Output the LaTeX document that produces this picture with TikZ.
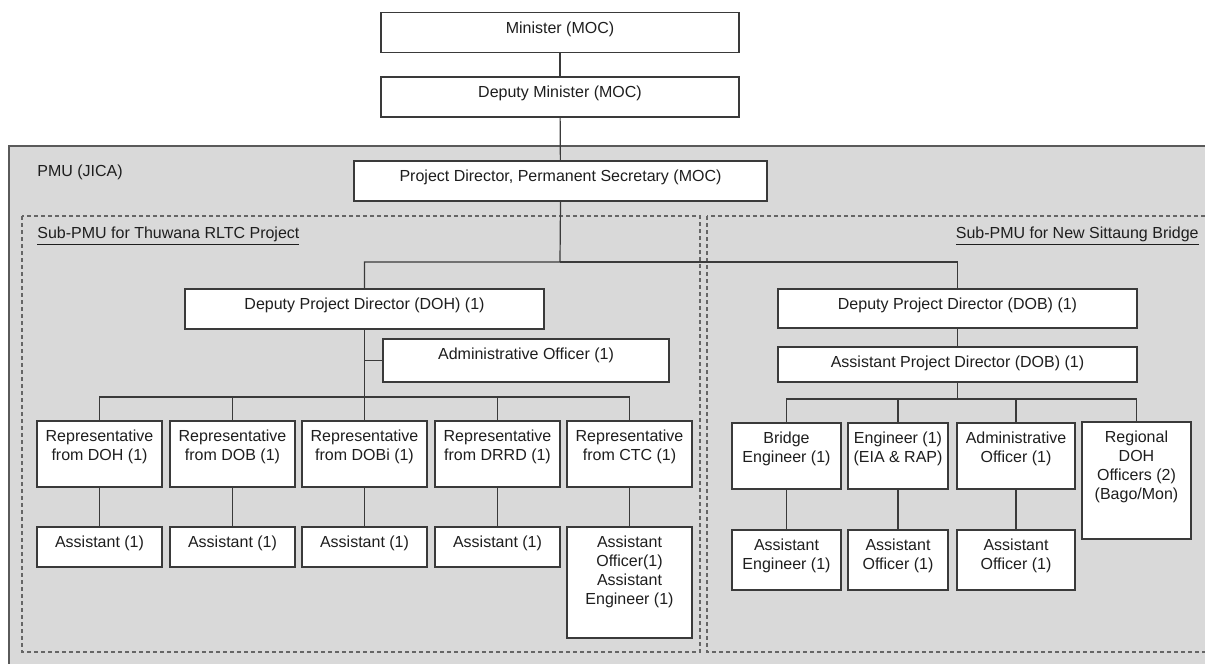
\documentclass[tikz,border=0pt]{standalone}
\usepackage{fontspec}
\setmainfont{Liberation Sans}
\usetikzlibrary{calc}
\definecolor{cInk}{HTML}{1E1E1E}
\definecolor{cLine}{HTML}{3A3A3A}
\definecolor{cPmu}{HTML}{D9D9D9}
\definecolor{cEdge}{HTML}{5A5A5A}
\definecolor{cDash}{HTML}{666666}
% box text sits at the top of a fixed-size cell
\newcommand{\cellbox}[3]{\parbox[c][#2pt][t]{#1pt}{\centering\rule{0pt}{10.3pt}#3}}
\tikzset{
  post/.style={draw=cLine,line width=0.7pt,fill=white,inner sep=0pt,text=cInk},
  link/.style={draw=cLine,line width=0.6pt},
  subpmu/.style={draw=cDash,line width=0.6pt,dash pattern=on 2pt off 1.5pt},
  tag/.style={inner sep=0pt,text=cInk},
}

\begin{document}
\begin{tikzpicture}[x=0.5pt,y=-0.5pt,font=\fontsize{8}{9.5}\selectfont]
  \clip (0,0) rectangle (1205,664);
  % PMU area and the two sub-PMUs
  \draw[fill=cPmu,draw=cEdge,line width=0.7pt] (9,146) rectangle (1220,680);
  \draw[subpmu] (22,216) rectangle (700,652);
  \draw[subpmu] (707,216) rectangle (1220,652);
  \node[tag,anchor=west] (pmu) at (37,172) {PMU (JICA)};
  \node[tag,anchor=base west] (subl) at (37,238) {\underline{Sub-PMU for Thuwana RLTC Project}};
  \node[tag,anchor=base east] (subr) at (1199,238) {\underline{Sub-PMU for New Sittaung Bridge}};

  % top of the chain
  \node[post] (min) at (560,32.5) {\cellbox{179}{20}{Minister (MOC)}};
  \node[post] (dmin) at (560,97) {\cellbox{179}{20}{Deputy Minister (MOC)}};
  \node[post] (pd) at (560.5,181) {\cellbox{206.5}{20}{Project Director, Permanent Secretary (MOC)}};

  % Thuwana side
  \node[post] (dpdh) at (364.5,309) {\cellbox{179.5}{20}{Deputy Project Director (DOH) (1)}};
  \node[post] (admh) at (526,360.5) {\cellbox{143}{21.5}{Administrative Officer (1)}};
  \node[post] (rdoh) at (99.5,454) {\cellbox{62.5}{33}{Representative\\from DOH (1)}};
  \node[post] (rdob) at (232.5,454) {\cellbox{62.5}{33}{Representative\\from DOB (1)}};
  \node[post] (rdobi) at (364.5,454) {\cellbox{62.5}{33}{Representative\\from DOBi (1)}};
  \node[post] (rdrrd) at (497.5,454) {\cellbox{62.5}{33}{Representative\\from DRRD (1)}};
  \node[post] (rctc) at (629.5,454) {\cellbox{62.5}{33}{Representative\\from CTC (1)}};
  \node[post] (adoh) at (99.5,547) {\cellbox{62.5}{20}{Assistant (1)}};
  \node[post] (adob) at (232.5,547) {\cellbox{62.5}{20}{Assistant (1)}};
  \node[post] (adobi) at (364.5,547) {\cellbox{62.5}{20}{Assistant (1)}};
  \node[post] (adrrd) at (497.5,547) {\cellbox{62.5}{20}{Assistant (1)}};
  \node[post] (actc) at (629.5,582.5) {\cellbox{62.5}{55.5}{Assistant\\Officer(1)\\Assistant\\Engineer (1)}};

  % Sittaung side
  \node[post] (dpdb) at (957.5,308.5) {\cellbox{179.5}{19.5}{Deputy Project Director (DOB) (1)}};
  \node[post] (apd) at (957.5,364.5) {\cellbox{179.5}{17.5}{Assistant Project Director (DOB) (1)}};
  \node[post] (beng) at (786.5,456) {\cellbox{54.5}{33}{Bridge\\Engineer (1)}};
  \node[post] (eng) at (898,456) {\cellbox{50}{33}{Engineer (1)\\(EIA \& RAP)}};
  \node[post] (admb) at (1016,456) {\cellbox{59}{33}{Administrative\\Officer (1)}};
  \node[post] (rdohb) at (1136.5,480.5) {\cellbox{54.5}{58.5}{Regional\\DOH\\Officers (2)\\(Bago/Mon)}};
  \node[post] (abeng) at (786.5,560) {\cellbox{54.5}{30}{Assistant\\Engineer (1)}};
  \node[post] (aeng) at (898,560) {\cellbox{50}{30}{Assistant\\Officer (1)}};
  \node[post] (aadmb) at (1016,560) {\cellbox{59}{30}{Assistant\\Officer (1)}};

  % connectors
  \coordinate (split) at (560,262);
  \coordinate (lhub) at (364.5,397);
  \coordinate (rhub) at (957.5,399);
  \draw[link] (min) -- (dmin);
  \draw[link] (dmin) -- (pd);
  \draw[link] (pd.south) -- (split) -| (dpdh.north);
  \draw[link] (split) -| (dpdb.north);
  \draw[link] (dpdh.south) -- (lhub);
  \draw[link] (admh.west) -- (admh.west -| lhub);
  \draw[link] (rdoh.north) |- (lhub);
  \draw[link] (rdob.north) |- (lhub);
  \draw[link] (rdobi.north) |- (lhub);
  \draw[link] (rdrrd.north) |- (lhub);
  \draw[link] (rctc.north) |- (lhub);
  \draw[link] (rdoh) -- (adoh);
  \draw[link] (rdob) -- (adob);
  \draw[link] (rdobi) -- (adobi);
  \draw[link] (rdrrd) -- (adrrd);
  \draw[link] (rctc) -- (actc);
  \draw[link] (dpdb) -- (apd);
  \draw[link] (apd.south) -- (rhub);
  \draw[link] (beng.north) |- (rhub);
  \draw[link] (eng.north) |- (rhub);
  \draw[link] (admb.north) |- (rhub);
  \draw[link] (rdohb.north) |- (rhub);
  \draw[link] (beng) -- (abeng);
  \draw[link] (eng) -- (aeng);
  \draw[link] (admb) -- (aadmb);
\end{tikzpicture}
\end{document}
